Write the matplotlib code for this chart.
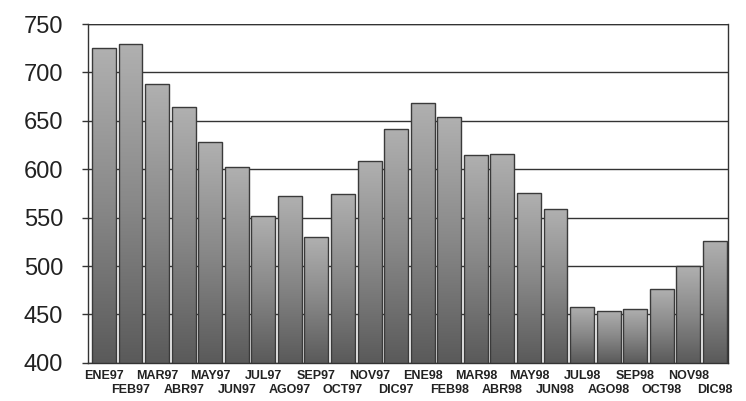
import matplotlib
matplotlib.use('Agg')
import matplotlib.pyplot as plt
import numpy as np
from matplotlib.colors import LinearSegmentedColormap

# monthly values, ENE97 .. DIC98
meses = ['ENE97', 'FEB97', 'MAR97', 'ABR97', 'MAY97', 'JUN97', 'JUL97', 'AGO97',
         'SEP97', 'OCT97', 'NOV97', 'DIC97', 'ENE98', 'FEB98', 'MAR98', 'ABR98',
         'MAY98', 'JUN98', 'JUL98', 'AGO98', 'SEP98', 'OCT98', 'NOV98', 'DIC98']
valores = [725, 729, 688, 664, 628, 602, 552, 572,
           530, 574, 609, 642, 668, 654, 615, 616,
           575, 559, 458, 454, 456, 476, 500, 526]
y_ticks = [400, 450, 500, 550, 600, 650, 700, 750]

plt.rcParams['font.family'] = ['Liberation Sans', 'DejaVu Sans']

fig = plt.figure(figsize=(7.46, 4.01), dpi=100)
ax = fig.add_axes([0.118, 0.095, 0.858, 0.845])

x = np.arange(len(meses))
bars = ax.bar(x, valores, width=0.9, color='none', edgecolor='#3a3a3a',
              linewidth=1.0, zorder=3)

# vertical gradient inside every bar (light top, dark bottom)
cmap = LinearSegmentedColormap.from_list('gris', ['#5a5a5a', '#888888', '#b0b0b0'])
grad = np.linspace(0, 1, 256).reshape(-1, 1)
for b in bars:
    x0, w, h = b.get_x(), b.get_width(), b.get_height()
    im = ax.imshow(grad, cmap=cmap, aspect='auto', origin='lower',
                   extent=(x0, x0 + w, 400, h), zorder=2)
    im.set_clip_path(b)

ax.set_ylim(400, 750)
ax.set_xlim(-0.6, 23.5)
ax.set_yticks(y_ticks)
ax.set_yticklabels([str(v) for v in y_ticks], fontsize=17, color='#222222')
ax.yaxis.grid(True, color='#333333', linewidth=1.0, zorder=0)
ax.set_axisbelow(True)
ax.tick_params(axis='y', length=4, width=1, color='#333333', pad=14)
ax.tick_params(axis='x', length=0)

# staggered month labels in two rows
ax.set_xticks(x)
ax.set_xticklabels([])
for i, m in enumerate(meses):
    yoff = -0.022 if i % 2 == 0 else -0.062
    ax.text(i, yoff, m, transform=ax.get_xaxis_transform(), ha='center', va='top',
            fontsize=9, fontweight='bold', color='#222222')

for s in ['left', 'bottom', 'right', 'top']:
    ax.spines[s].set_color('#333333')
    ax.spines[s].set_linewidth(1.0)
ax.spines['top'].set_visible(False)
ax.axhline(750, color='#333333', linewidth=1.0, zorder=1)

fig.savefig('out.png', dpi=100)
